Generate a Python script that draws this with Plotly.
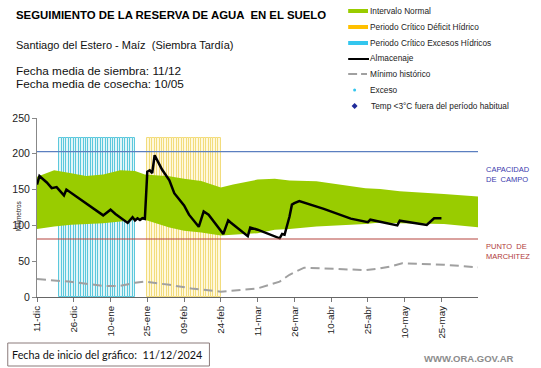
import plotly.graph_objects as go
import pandas as pd

# ---------------- data ----------------
BAND_DATES = ["2024-12-11", "2024-12-18", "2024-12-25", "2024-12-31", "2025-01-07", "2025-01-14",
              "2025-01-20", "2025-01-24", "2025-02-03", "2025-02-09", "2025-02-16", "2025-02-24",
              "2025-03-01", "2025-03-11", "2025-03-18", "2025-03-24", "2025-04-04", "2025-04-14",
              "2025-04-24", "2025-04-30", "2025-05-08", "2025-05-26", "2025-06-09"]
BAND_UPPER = [168, 177, 173, 169, 171, 177, 176, 171, 168.6, 165, 162, 153,
              157, 164, 165, 162.6, 161.6, 157, 152, 151, 147.6, 144, 140.5]
BAND_LOWER = [95, 98.6, 101, 102, 103, 105.5, 108, 108, 97, 92.5, 90, 86,
              87, 89, 94, 95, 98.6, 100, 102, 104, 103, 102, 97.5]

ALM_DATES = ["2024-12-11", "2024-12-12", "2024-12-15", "2024-12-17", "2024-12-19", "2024-12-22",
             "2024-12-23", "2024-12-27", "2025-01-02", "2025-01-04", "2025-01-07", "2025-01-10",
             "2025-01-12", "2025-01-17", "2025-01-19", "2025-01-20", "2025-01-21", "2025-01-22",
             "2025-01-23", "2025-01-24", "2025-01-25", "2025-01-26", "2025-01-27", "2025-01-28",
             "2025-01-31", "2025-02-03", "2025-02-05", "2025-02-09", "2025-02-11", "2025-02-15",
             "2025-02-17", "2025-02-19", "2025-02-25", "2025-02-27", "2025-02-28", "2025-03-07",
             "2025-03-08", "2025-03-11", "2025-03-20", "2025-03-21", "2025-03-22", "2025-03-24",
             "2025-03-25", "2025-03-26", "2025-03-28", "2025-04-07", "2025-04-18", "2025-04-25",
             "2025-04-26", "2025-05-07", "2025-05-08", "2025-05-19", "2025-05-22", "2025-05-25"]
ALM_VALUES = [157, 169, 160, 152, 153.5, 142,
              150, 140.5, 127, 122, 114, 122,
              116, 103.5, 111.5, 107, 110, 107.5,
              110, 109, 175, 177, 173, 198,
              178, 163, 145, 128, 115, 98,
              119.5, 115, 88, 107, 104, 85,
              97, 94, 82, 88, 87, 112,
              129, 131, 134, 123, 109.5, 104.5,
              108, 100, 106.5, 100.5, 110, 110]

MIN_DATES = ["2024-12-11", "2024-12-24", "2025-01-07", "2025-01-14", "2025-01-20", "2025-01-24",
             "2025-02-03", "2025-02-12", "2025-02-24", "2025-03-11", "2025-03-20", "2025-03-24",
             "2025-03-30", "2025-04-07", "2025-04-14", "2025-04-24", "2025-04-30", "2025-05-04",
             "2025-05-09", "2025-05-26", "2025-06-09"]
MIN_VALUES = [25, 21.5, 15.5, 15.5, 20, 21.5,
              17, 12, 7.5, 12, 21.5, 31,
              41, 40, 39, 37.5, 40, 42.5,
              47, 45, 41.5]

EXCESS_START, EXCESS_END = "2024-12-20", "2025-01-20"
DEFICIT_START, DEFICIT_END = "2025-01-25", "2025-02-24"
CRITICAL_TOP = 222
CAPACIDAD_CAMPO = 203
PUNTO_MARCHITEZ = 81

TICK_DATES = ["2024-12-11", "2024-12-26", "2025-01-10", "2025-01-25", "2025-02-09", "2025-02-24",
              "2025-03-11", "2025-03-26", "2025-04-10", "2025-04-25", "2025-05-10", "2025-05-25"]
TICK_LABELS = ["11-dic", "26-dic", "10-ene", "25-ene", "09-feb", "24-feb",
               "11-mar", "26-mar", "10-abr", "25-abr", "10-may", "25-may"]
Y_TICKS = [0, 50, 100, 150, 200, 250]

# ---------------- geometry ----------------
W, H = 541, 368
ML, MR, MT, MB = 33, 63, 118, 71
PW, PH = W - ML - MR, H - MT - MB
FONT = "Liberation Sans"


def px(x):
    return (x - ML) / PW


def py(y):
    return (H - MB - y) / PH


DAY_MS = 86400000

fig = go.Figure()

exc_days = pd.date_range(EXCESS_START, EXCESS_END, freq="D", inclusive="left")
def_days = pd.date_range(DEFICIT_START, DEFICIT_END, freq="D", inclusive="left")

fig.add_trace(go.Bar(x=exc_days, y=[CRITICAL_TOP] * len(exc_days), width=DAY_MS, offset=0,
                     marker=dict(color="#E2F5F8", line=dict(color="#5CC8DC", width=1)),
                     hoverinfo="skip"))
fig.add_trace(go.Bar(x=def_days, y=[CRITICAL_TOP] * len(def_days), width=DAY_MS, offset=0,
                     marker=dict(color="#FFF8DC", line=dict(color="#F2DC7C", width=1)),
                     hoverinfo="skip"))

fig.add_trace(go.Scatter(x=BAND_DATES, y=BAND_LOWER, mode="lines", line=dict(width=0, color="#99CC00"),
                         hoverinfo="skip"))
fig.add_trace(go.Scatter(x=BAND_DATES, y=BAND_UPPER, mode="lines", line=dict(width=0, color="#99CC00"),
                         fill="tonexty", fillcolor="#99CC00", hoverinfo="skip"))

fig.add_trace(go.Scatter(x=MIN_DATES, y=MIN_VALUES, mode="lines",
                         line=dict(color="#A0A0A0", width=2, dash="9px,5px")))
fig.add_trace(go.Scatter(x=ALM_DATES, y=ALM_VALUES, mode="lines",
                         line=dict(color="black", width=2.5)))

shapes = [
    dict(type="line", xref="paper", yref="y", x0=0, x1=1, y0=CAPACIDAD_CAMPO, y1=CAPACIDAD_CAMPO,
         line=dict(color="#5B7FC0", width=1.2)),
    dict(type="line", xref="paper", yref="y", x0=0, x1=1, y0=PUNTO_MARCHITEZ, y1=PUNTO_MARCHITEZ,
         line=dict(color="#B5443E", width=1.2)),
    # legend swatches
    dict(type="rect", xref="paper", yref="paper", x0=px(347), x1=px(367), y0=py(9), y1=py(13),
         fillcolor="#99CC00", line=dict(width=0)),
    dict(type="rect", xref="paper", yref="paper", x0=px(347), x1=px(367), y0=py(25), y1=py(29),
         fillcolor="#FFC000", line=dict(width=0)),
    dict(type="rect", xref="paper", yref="paper", x0=px(347), x1=px(367), y0=py(41), y1=py(45),
         fillcolor="#33C6EE", line=dict(width=0)),
    dict(type="line", xref="paper", yref="paper", x0=px(347), x1=px(368), y0=py(59), y1=py(59),
         line=dict(color="black", width=2)),
    dict(type="line", xref="paper", yref="paper", x0=px(347), x1=px(356), y0=py(74), y1=py(74),
         line=dict(color="#A0A0A0", width=2)),
    dict(type="line", xref="paper", yref="paper", x0=px(360), x1=px(366), y0=py(74), y1=py(74),
         line=dict(color="#A0A0A0", width=2)),
    dict(type="circle", xref="paper", yref="paper", x0=px(352), x1=px(355), y0=py(88.5), y1=py(91.5),
         fillcolor="#33C6EE", line=dict(width=0)),
    dict(type="path", xref="paper", yref="paper",
         path=f"M {px(353.5)},{py(103)} L {px(356.5)},{py(106)} L {px(353.5)},{py(109)} L {px(350.5)},{py(106)} Z",
         fillcolor="#1F2A9A", line=dict(width=0)),
    # footer box
    dict(type="rect", xref="paper", yref="paper", x0=px(3.5), x1=px(207), y0=py(343), y1=py(366),
         fillcolor="white", line=dict(color="#8B7B7B", width=1)),
]


def ann(x, y, text, size, color="#111", bold=False, xanchor="left", family=FONT, **kw):
    return dict(x=px(x - 2 if xanchor == "left" else x), y=py(y), xref="paper", yref="paper",
                text=f"<b>{text}</b>" if bold else text,
                showarrow=False, xanchor=xanchor, yanchor="middle",
                font=dict(family=family, size=size, color=color), **kw)


annotations = [
    ann(12, 15, "SEGUIMIENTO DE LA RESERVA DE AGUA  EN EL SUELO", 11.4, color="black", bold=True),
    ann(12, 45.5, "Santiago del Estero - Maíz  (Siembra Tardía)", 11, color="#111"),
    ann(12, 71, "Fecha media de siembra: 11/12", 11.8, color="#111"),
    ann(12, 83.5, "Fecha media de cosecha: 10/05", 11.8, color="#111"),
    ann(369, 11, "Intervalo Normal", 8.3, color="#222"),
    ann(369, 27, "Periodo Crítico Déficit Hídrico", 8.3, color="#222"),
    ann(369, 43, "Periodo Crítico Excesos Hídricos", 8.3, color="#222"),
    ann(369, 58.5, "Almacenaje", 8.3, color="#222"),
    ann(369, 74, "Mínimo histórico", 8.3, color="#222"),
    ann(369, 90, "Exceso", 8.3, color="#222"),
    ann(370, 106, "Temp <3°C fuera del período habitual", 8.3, color="#222"),
    ann(486, 174, "CAPACIDAD<br>DE  CAMPO", 7.5, color="#3A3AAE", align="left"),
    ann(486, 251, "PUNTO  DE<br>MARCHITEZ", 7.5, color="#B03A3A", align="left"),
    ann(8, 354.5, "Fecha de inicio del gráfico:  11/12/2024", 10.8, color="#111", family="Lato"),
    ann(516, 358, "WWW.ORA.GOV.AR", 9.5, color="#8C8C8C", bold=True, xanchor="right"),
    dict(x=px(14), y=py(216), xref="paper", yref="paper", text="Milímetros", showarrow=False,
         textangle=-90, xanchor="center", yanchor="middle",
         font=dict(family=FONT, size=6.5, color="#222")),
]

fig.update_layout(
    width=W, height=H, autosize=False,
    margin=dict(l=ML, r=MR, t=MT, b=MB, pad=0),
    paper_bgcolor="white", plot_bgcolor="white",
    showlegend=False, barmode="overlay", bargap=0,
    shapes=shapes, annotations=annotations,
    xaxis=dict(type="date", range=["2024-12-11", "2025-06-08 22:00"],
               tickvals=TICK_DATES, ticktext=TICK_LABELS, tickangle=-90,
               ticks="outside", ticklen=4, tickcolor="#777", showline=True, linecolor="#666",
               linewidth=1, showgrid=False, zeroline=False,
               tickfont=dict(family=FONT, size=9.8, color="#222")),
    yaxis=dict(range=[0, 250], tickvals=Y_TICKS, ticks="outside", ticklen=4, tickcolor="#888",
               showline=True, linecolor="#888", linewidth=1, showgrid=False, zeroline=False,
               tickfont=dict(family=FONT, size=10.5, color="#222")),
)

fig.write_html("out.html", config={"displayModeBar": False},
               post_script="document.body.style.margin='0px';")
